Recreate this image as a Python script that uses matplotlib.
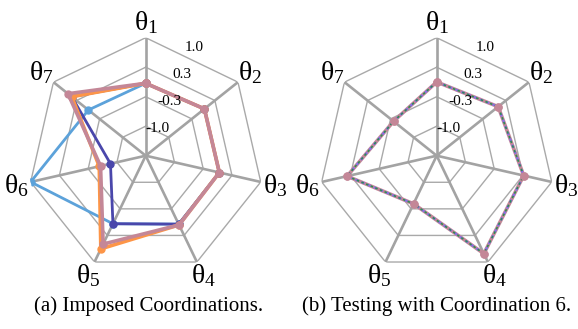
import numpy as np
import matplotlib
matplotlib.use("Agg")
import matplotlib.pyplot as plt

plt.rcParams['mathtext.fontset'] = 'custom'
plt.rcParams['mathtext.rm'] = 'Liberation Serif'
plt.rcParams['mathtext.it'] = 'Liberation Serif:italic'
plt.rcParams['font.family'] = ['Liberation Serif', 'DejaVu Serif']

# ---- data ----
axis_labels = [r'$\mathrm{θ}_{%d}$' % i for i in range(1, 8)]
ring_values = [-1.0, -1/3, 1/3, 1.0]
ring_labels = ['-1.0', '-0.3', '0.3', '1.0']
r_min = -5/3

# (a) Imposed coordinations
light_blue = [-0.03, 0.03, 0.04, 0.05, 0.04, 1.00, -0.01]
dark_blue = [-0.03, 0.03, 0.04, 0.05, 0.04, -0.85, 0.47]
orange = [-0.03, 0.03, 0.04, 0.07, 0.67, -0.59, 0.47]
pink = [-0.03, 0.03, 0.04, 0.07, 0.55, -0.62, 0.58]

# (b) Testing with coordination 6
test_vals = [0.0, 0.11, 0.35, 0.79, -0.46, 0.41, -0.42]

captions = ['(a) Imposed Coordinations.', '(b) Testing with Coordination 6.']

W, H = 578, 329
fig = plt.figure(figsize=(W / 100, H / 100), dpi=100)

n = len(axis_labels)
theta = np.arange(n) * 2 * np.pi / n
theta_c = np.append(theta, theta[0])


def close(v):
    return np.append(v, v[0])


def make_axes(cx):
    rad = 118
    ax = fig.add_axes([(cx - rad) / W, (H - 155.7 - rad) / H, 2 * rad / W, 2 * rad / H],
                      projection='polar')
    ax.set_theta_zero_location('N')
    ax.set_theta_direction(-1)
    ax.set_ylim(r_min, 1.0)
    ax.grid(False)
    ax.spines['polar'].set_visible(False)
    ax.set_xticks([])
    ax.set_yticks([])
    ax.patch.set_visible(False)
    for rv in ring_values:
        ax.plot(theta_c, [rv] * (n + 1), color='#a9a9a9', lw=1.0, zorder=1)
    for t in theta:
        ax.plot([t, t], [r_min, 1.0], color='#a3a3a3', lw=1.9, zorder=1.5,
                solid_capstyle='butt')
    for rv, lab in zip(ring_values, ring_labels):
        ax.text(np.deg2rad(24), rv, lab, ha='center', va='center', fontsize=11,
                zorder=5)
    for t, lab in zip(theta, axis_labels):
        ax.text(t, 1.34, lab, ha='center', va='center', fontsize=20, clip_on=False)
    return ax


ax1 = make_axes(145.7)
ax1.plot(theta_c, close(light_blue), color='#5ca2da', lw=2.0, marker='o', ms=5, zorder=3)
ax1.plot(theta_c, close(dark_blue), color='#4a47ab', lw=2.0, marker='o', ms=5, zorder=3.2)
ax1.plot(theta_c, close(orange), color='#fd9547', lw=2.6, marker='o', ms=5, zorder=3.4)
ax1.plot(theta_c, close(pink), color='#c48797', lw=2.6, marker='o', ms=5, zorder=3.6)

ax2 = make_axes(436.7)
ax2.plot(theta_c, close(test_vals), color='#c48797', lw=2.6, marker='o', ms=5, zorder=3)
ax2.plot(theta_c, close(test_vals), color='#8b6fe6', lw=1.6, ls=(0, (1.5, 1.5)), zorder=3.2)
ax2.plot(theta_c, close(test_vals), color='#2e8b57', lw=1.2, ls=(1.5, (1.5, 1.5)), zorder=3.4)
ax2.plot(theta, test_vals, ls='none', color='#c48797', marker='o', ms=5, zorder=3.6)

fig.text(149 / W, (H - 306) / H, captions[0], ha='center', va='center', fontsize=15)
fig.text(437 / W, (H - 306) / H, captions[1], ha='center', va='center', fontsize=15)

fig.savefig('out.png', dpi=100)
